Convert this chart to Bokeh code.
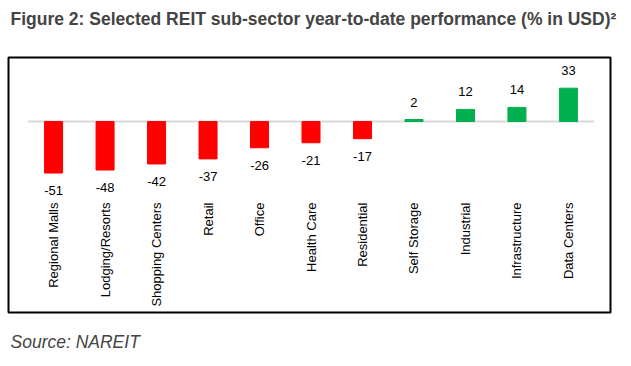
import math
from bokeh.plotting import figure
from bokeh.models import Range1d, ColumnDataSource, Title
from bokeh.core.properties import value
from bokeh.embed import file_html
from bokeh.resources import INLINE

categories = ["Regional Malls", "Lodging/Resorts", "Shopping Centers", "Retail", "Office",
              "Health Care", "Residential", "Self Storage", "Industrial", "Infrastructure",
              "Data Centers"]
values = [-51, -48, -42, -37, -26, -21, -17, 2, 12, 14, 33]
value_labels = [str(v) for v in values]

NEG = "#FF0000"
POS = "#00B050"
FONT = "Liberation Sans"

n = len(categories)
xs = list(range(n))
src = ColumnDataSource(dict(
    x=xs, top=values, cat=categories, lab=value_labels,
    color=[NEG if v < 0 else POS for v in values],
    off=[17.5 if v < 0 else -17.5 for v in values],
))

p = figure(width=623, height=364,
           x_range=Range1d(-0.8755, 10.817), y_range=Range1d(-189.1, 63.4),
           output_backend="svg", toolbar_location=None,
           x_axis_type=None, y_axis_type=None,
           min_border_left=8, min_border_right=13, min_border_top=57, min_border_bottom=52)
p.grid.visible = False
p.outline_line_color = "black"
p.outline_line_width = 2
p.background_fill_color = "white"
p.border_fill_color = "white"

# zero line
p.segment(x0=[-0.5], x1=[n - 0.5], y0=[0], y1=[0], line_color="#D9D9D9", line_width=2)

p.vbar(x="x", top="top", bottom=0, width=0.35, color="color", source=src)

p.text(x="x", y="top", text="lab", y_offset="off", source=src,
       text_align="center", text_baseline="middle",
       text_font=value(FONT), text_font_size="13px", text_color="black")

p.text(x="x", y=0, text="cat", source=src, angle=math.pi / 2, y_offset=81,
       text_align="right", text_baseline="middle",
       text_font=value(FONT), text_font_size="13px", text_color="black")

# spacer between frame and title (innermost)
p.add_layout(Title(text=" ", text_font=FONT, text_font_size="17.5px", standoff=7), "above")
title = Title(text="Figure 2: Selected REIT sub-sector year-to-date performance (% in USD)\u00b2",
              text_font=FONT, text_font_size="17.5px", text_font_style="bold",
              align="left", offset=2, standoff=0)
p.add_layout(title, "above")

p.add_layout(Title(text=" ", text_font=FONT, text_font_size="10.5px", standoff=3), "below")
source = Title(text="Source: NAREIT", text_font=FONT, text_font_size="17.5px",
               text_font_style="italic", align="left", offset=2, standoff=0)
p.add_layout(source, "below")

open("out.html", "w").write(file_html(p, INLINE))
